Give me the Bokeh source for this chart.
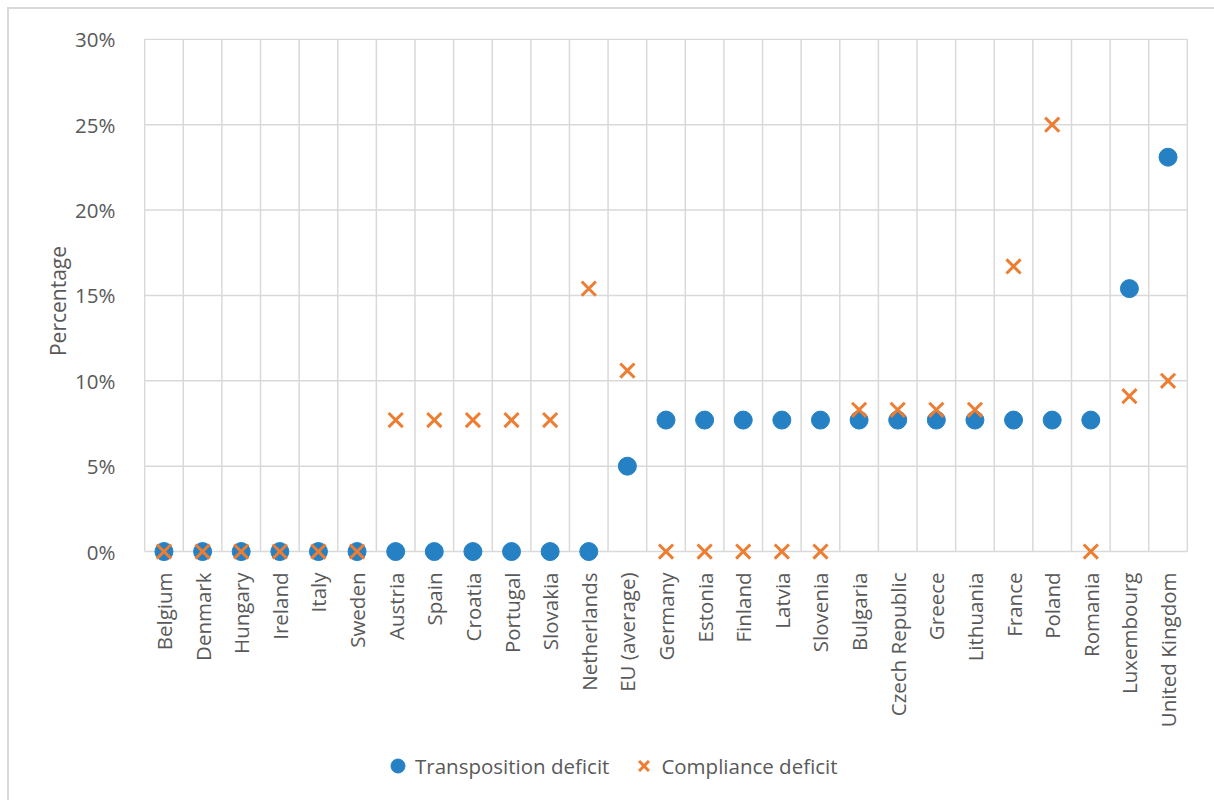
from bokeh.plotting import figure
from bokeh.layouts import column
from bokeh.models import Range1d, FixedTicker, Legend, LegendItem
from bokeh.embed import file_html
from bokeh.resources import INLINE
import math

countries = ["Belgium", "Denmark", "Hungary", "Ireland", "Italy", "Sweden", "Austria", "Spain",
             "Croatia", "Portugal", "Slovakia", "Netherlands", "EU (average)", "Germany", "Estonia",
             "Finland", "Latvia", "Slovenia", "Bulgaria", "Czech Republic", "Greece", "Lithuania",
             "France", "Poland", "Romania", "Luxembourg", "United Kingdom"]
transposition = [0, 0, 0, 0, 0, 0, 0, 0, 0, 0, 0, 0, 5.0, 7.7, 7.7, 7.7, 7.7, 7.7, 7.7, 7.7,
                 7.7, 7.7, 7.7, 7.7, 7.7, 15.4, 23.1]
compliance = [0, 0, 0, 0, 0, 0, 7.7, 7.7, 7.7, 7.7, 7.7, 15.4, 10.6, 0, 0, 0, 0, 0, 8.3, 8.3,
              8.3, 8.3, 16.7, 25.0, 0, 9.1, 10.0]
series_names = ["Transposition deficit", "Compliance deficit"]
y_ticks = [0, 5, 10, 15, 20, 25, 30]
y_tick_labels = ["0%", "5%", "10%", "15%", "20%", "25%", "30%"]

n = len(countries)
xs = [i + 0.5 for i in range(n)]

FONT = "Open Sans"
GREY = "#595959"
GRID = "#d9d9d9"
BLUE = "#2581c4"
ORANGE = "#ed7d31"

p = figure(width=1205, height=735, x_range=Range1d(-0.03, n + 0.03), y_range=Range1d(-0.7, 30.05),
           output_backend="svg", toolbar_location=None,
           min_border_left=134, min_border_right=26, min_border_top=29, min_border_bottom=181)
p.outline_line_color = None
p.xgrid.visible = False
p.ygrid.visible = False

# grid drawn as segments so lines stop at 0 %
vx = list(range(n + 1))
p.segment(x0=vx, y0=[y_ticks[0]] * len(vx), x1=vx, y1=[y_ticks[-1]] * len(vx),
          line_color=GRID, line_width=1.5)
p.segment(x0=[0] * len(y_ticks), y0=y_ticks, x1=[n] * len(y_ticks), y1=y_ticks,
          line_color=GRID, line_width=1.5)

p.xaxis.ticker = FixedTicker(ticks=xs)
p.xaxis.major_label_overrides = {x: c for x, c in zip(xs, countries)}
p.xaxis.major_label_orientation = math.pi / 2
p.yaxis.ticker = FixedTicker(ticks=y_ticks)
p.yaxis.major_label_overrides = {t: l for t, l in zip(y_ticks, y_tick_labels)}

for ax in (p.xaxis, p.yaxis):
    ax.axis_line_color = None
    ax.major_tick_line_color = None
    ax.minor_tick_line_color = None
    ax.major_label_text_font = FONT
    ax.major_label_text_font_size = "20.5px"
    ax.major_label_text_color = GREY
p.xaxis.major_label_standoff = 3
p.yaxis.major_label_standoff = 22
p.yaxis.axis_label = "Percentage"
p.yaxis.axis_label_text_font = FONT
p.yaxis.axis_label_text_font_size = "21px"
p.yaxis.axis_label_text_font_style = "normal"
p.yaxis.axis_label_text_color = GREY
p.yaxis.axis_label_standoff = 0

p.scatter(xs, transposition, marker="circle", size=18, fill_color=BLUE, line_color=BLUE)
p.scatter(xs, compliance, marker="x", size=20, line_color=ORANGE, line_width=3)

# legend strip below the chart (proxy renderers kept outside the visible range)
lf = figure(width=1205, height=56, x_range=Range1d(100, 101), y_range=Range1d(100, 101),
            output_backend="svg", toolbar_location=None,
            min_border_left=0, min_border_right=0, min_border_top=0, min_border_bottom=0)
lf.axis.visible = False
lf.grid.visible = False
lf.outline_line_color = None
l1 = lf.scatter(xs[:1], transposition[:1], marker="circle", size=18, fill_color=BLUE, line_color=BLUE)
l2 = lf.scatter(xs[:1], compliance[:1], marker="x", size=20, line_color=ORANGE, line_width=3)
legend = Legend(items=[LegendItem(label=series_names[0], renderers=[l1], index=0),
                       LegendItem(label=series_names[1], renderers=[l2], index=0)],
                orientation="horizontal", location=(237, 17), margin=0,
                border_line_color=None, background_fill_alpha=0,
                label_text_font=FONT, label_text_font_size="20.5px", label_text_color=GREY,
                glyph_width=35, glyph_height=35, spacing=17, padding=0, label_standoff=-4)
lf.add_layout(legend, "center")

layout = column(p, lf, spacing=0)
layout.margin = (7, 0, 0, 7)
layout.styles = {"border-top": "2px solid #d9d9d9", "border-left": "2px solid #d9d9d9"}

open("out.html", "w").write(file_html(layout, INLINE))
